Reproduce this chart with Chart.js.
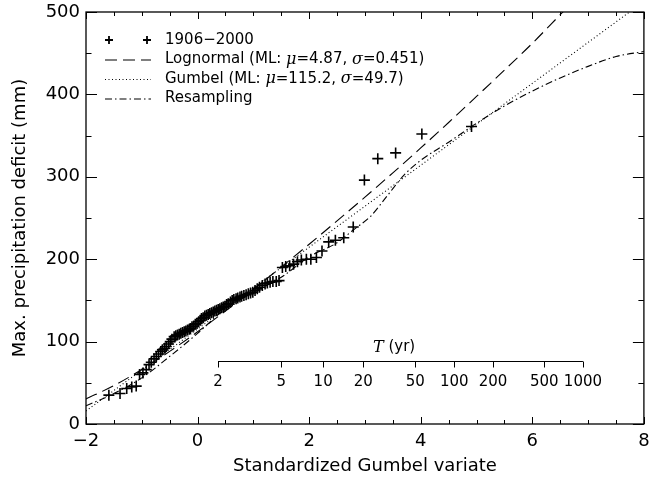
<!DOCTYPE html>
<html>
<head>
<meta charset="utf-8">
<script src="https://cdn.jsdelivr.net/npm/chart.js@4.4.1/dist/chart.umd.min.js"></script>
<style>
  html, body { margin: 0; padding: 0; background: #fff; }
</style>
</head>
<body>
<canvas id="chart" width="651" height="477"></canvas>
<script>
'use strict';

// annual maxima 1906-2000, at their Gumbel plotting positions
const obsX = [-1.59, -1.39, -1.27, -1.18, -1.10, -1.04, -0.98, -0.92, -0.87, -0.83,
  -0.78, -0.74, -0.70, -0.66, -0.63, -0.59, -0.56, -0.52, -0.49, -0.46,
  -0.42, -0.39, -0.36, -0.33, -0.30, -0.27, -0.24, -0.21, -0.18, -0.15,
  -0.13, -0.10, -0.07, -0.04, -0.01, 0.02, 0.05, 0.07, 0.10, 0.13,
  0.16, 0.19, 0.22, 0.25, 0.28, 0.31, 0.34, 0.37, 0.40, 0.43,
  0.46, 0.49, 0.52, 0.55, 0.59, 0.62, 0.65, 0.69, 0.72, 0.76,
  0.79, 0.83, 0.87, 0.91, 0.95, 0.99, 1.03, 1.07, 1.11, 1.16,
  1.21, 1.25, 1.30, 1.35, 1.41, 1.46, 1.52, 1.58, 1.65, 1.72,
  1.79, 1.86, 1.95, 2.03, 2.13, 2.23, 2.35, 2.47, 2.62, 2.79,
  2.99, 3.23, 3.55, 4.02, 4.91];
const obsY = [35, 37, 43, 45, 46, 60, 62, 66, 72, 75,
  79, 82, 85, 88, 90, 92, 94, 97, 100, 103,
  106, 107, 108, 109, 110, 111, 112, 113, 114, 115,
  116, 118, 119, 121, 122, 124, 126, 128, 129, 131,
  132, 133, 134, 135, 136, 137, 138, 139, 140, 141,
  142, 143, 145, 146, 148, 150, 151, 152, 153, 154,
  155, 156, 157, 158, 159, 160, 162, 164, 166, 168,
  170, 171, 172, 173, 173, 174, 190, 191, 192, 194,
  197, 199, 200, 200, 202, 210, 221, 223, 226, 239,
  296, 322, 329, 352, 361];

// lognormal fit (ML)
const lognX = [-2, -1.5, -1, -0.5, 0, 0.5, 1, 1.5, 2, 2.5, 3, 3.5, 4, 4.5, 5, 5.5, 6, 6.5, 7];
const lognY = [30.4, 46.6, 66.1, 88.1, 111.9, 137.2, 163.4, 190.5, 218.2, 246.5, 275.3,
  304.8, 335.0, 365.9, 397.5, 429.5, 462.0, 496.7, 531.5];

// gumbel fit (ML) - straight line on this paper
const gumbX = [-2, 8];
const gumbY = [15.8, 512.8];

// resampling estimate
const resX = [-2, -1.5, -1, -0.5, 0, 0.5, 1, 1.5, 2, 2.5, 2.8, 3.1, 3.4, 3.7, 4, 4.5, 5, 5.5, 6, 6.5, 7, 7.5, 8];
const resY = [22, 37, 56, 82, 110, 140, 160, 178, 203, 220, 236, 252, 277, 302, 320, 342, 365, 386, 404, 420, 434, 446, 452];

// return period axis
const returnPeriods = [2, 5, 10, 20, 50, 100, 200, 500, 1000];
const tAxisLevel = 76;

const legendNames = ['1906\u22122000', 'Lognormal', 'Gumbel', 'Resampling'];

const SANS = '"DejaVu Sans", sans-serif';
const GREEK = 'italic 16px "DejaVu Serif", serif';
const dashLogn = [12, 6];
const dashGumb = [1, 2.5];
const dashRes = [7, 3, 1.5, 3];

const toPts = (xs, ys) => xs.map((x, i) => ({ x: x, y: ys[i] }));
const minus = (v) => (v < 0 ? '\u2212' + Math.abs(v) : String(v));
const gumbelVariate = (T) => -Math.log(-Math.log(1 - 1 / T));

function drawRuns(ctx, x, y, runs) {
  runs.forEach(([text, font]) => {
    ctx.font = font;
    ctx.fillText(text, x, y);
    x += ctx.measureText(text).width;
  });
}

const extras = {
  id: 'extras',
  afterDatasetsDraw(chart) {
    const { ctx, chartArea: ca } = chart;
    const xs = chart.scales.x;
    const ys = chart.scales.y;
    ctx.save();
    ctx.strokeStyle = '#000';
    ctx.fillStyle = '#000';

    // frame
    ctx.lineWidth = 1.3;
    ctx.strokeRect(ca.left, ca.top, ca.right - ca.left, ca.bottom - ca.top);

    // inward ticks
    ctx.lineWidth = 1;
    ctx.beginPath();
    for (let v = -2; v <= 8; v += 0.5) {
      const px = Math.round(xs.getPixelForValue(v)) + 0.5;
      const len = v % 2 === 0 ? 7 : 4;
      ctx.moveTo(px, ca.bottom); ctx.lineTo(px, ca.bottom - len);
      ctx.moveTo(px, ca.top); ctx.lineTo(px, ca.top + len);
    }
    for (let v = 0; v <= 500; v += 50) {
      const py = Math.round(ys.getPixelForValue(v)) + 0.5;
      const len = v % 100 === 0 ? 11 : 5.5;
      ctx.moveTo(ca.left, py); ctx.lineTo(ca.left + len, py);
      ctx.moveTo(ca.right, py); ctx.lineTo(ca.right - len, py);
    }
    ctx.stroke();

    // return period axis inside the plot
    const ty = Math.round(ys.getPixelForValue(tAxisLevel)) + 0.5;
    const tx0 = xs.getPixelForValue(gumbelVariate(returnPeriods[0]));
    const tx1 = xs.getPixelForValue(gumbelVariate(returnPeriods[returnPeriods.length - 1]));
    ctx.beginPath();
    ctx.moveTo(tx0, ty); ctx.lineTo(tx1, ty);
    returnPeriods.forEach((T) => {
      const px = Math.round(xs.getPixelForValue(gumbelVariate(T))) + 0.5;
      ctx.moveTo(px, ty); ctx.lineTo(px, ty + 6);
    });
    ctx.stroke();
    ctx.textAlign = 'center';
    ctx.textBaseline = 'middle';
    ctx.font = '15px ' + SANS;
    returnPeriods.forEach((T) => {
      ctx.fillText(String(T), xs.getPixelForValue(gumbelVariate(T)), ty + 21);
    });
    ctx.textAlign = 'left';
    const tLabelX = xs.getPixelForValue(3.52) - 21;
    drawRuns(ctx, tLabelX, ty - 14, [['T', 'italic 16px "DejaVu Serif", serif'], [' (yr)', '15px ' + SANS]]);

    // legend
    const lx0 = ca.left + 22, lx1 = ca.left + 62, tx = ca.left + 79;
    const rows = [ca.top + 28, ca.top + 47.5, ca.top + 67, ca.top + 86.5];
    const F = '15px ' + SANS;
    ctx.lineWidth = 1.8;
    [lx0 + 1, lx1 - 1].forEach((px) => {
      ctx.beginPath();
      ctx.moveTo(px - 4, rows[0]); ctx.lineTo(px + 4, rows[0]);
      ctx.moveTo(px, rows[0] - 4); ctx.lineTo(px, rows[0] + 4);
      ctx.stroke();
    });
    ctx.lineWidth = 1.1;
    [[dashLogn, rows[1]], [dashGumb, rows[2]], [dashRes, rows[3]]].forEach(([d, y]) => {
      ctx.setLineDash(d);
      ctx.beginPath();
      ctx.moveTo(lx0 - 3, y + 0.5); ctx.lineTo(lx1 + 3, y + 0.5);
      ctx.stroke();
    });
    ctx.setLineDash([]);
    drawRuns(ctx, tx, rows[0], [[legendNames[0], F]]);
    drawRuns(ctx, tx, rows[1], [[legendNames[1] + ' (ML: ', F], ['\u03bc', GREEK], ['=4.87, ', F], ['\u03c3', GREEK], ['=0.451)', F]]);
    drawRuns(ctx, tx, rows[2], [[legendNames[2] + ' (ML: ', F], ['\u03bc', GREEK], ['=115.2, ', F], ['\u03c3', GREEK], ['=49.7)', F]]);
    drawRuns(ctx, tx, rows[3], [[legendNames[3], F]]);
    ctx.restore();
  }
};

Chart.defaults.font.family = SANS;
Chart.defaults.color = '#000';

new Chart(document.getElementById('chart'), {
  type: 'scatter',
  data: {
    datasets: [
      {
        label: legendNames[0],
        data: toPts(obsX, obsY),
        pointStyle: 'cross',
        pointRadius: 5.5,
        pointBorderWidth: 1.6,
        borderColor: '#000',
        backgroundColor: '#000',
        showLine: false
      },
      {
        label: legendNames[1],
        data: toPts(lognX, lognY),
        showLine: true,
        pointRadius: 0,
        borderColor: '#000',
        borderWidth: 1.1,
        borderDash: dashLogn,
        cubicInterpolationMode: 'monotone'
      },
      {
        label: legendNames[2],
        data: toPts(gumbX, gumbY),
        showLine: true,
        pointRadius: 0,
        borderColor: '#000',
        borderWidth: 1.1,
        borderDash: dashGumb
      },
      {
        label: legendNames[3],
        data: toPts(resX, resY),
        showLine: true,
        pointRadius: 0,
        borderColor: '#000',
        borderWidth: 1.1,
        borderDash: dashRes,
        cubicInterpolationMode: 'monotone'
      }
    ]
  },
  options: {
    responsive: false,
    animation: false,
    layout: { padding: { left: 0, right: 7, top: 12, bottom: 0 } },
    plugins: { legend: { display: false }, tooltip: { enabled: false } },
    scales: {
      x: {
        type: 'linear',
        min: -2,
        max: 8,
        grid: { display: false, drawTicks: false },
        border: { display: false },
        ticks: { stepSize: 2, padding: 7, font: { size: 18 }, callback: minus, maxRotation: 0 },
        title: { display: true, text: 'Standardized Gumbel variate', font: { size: 18 }, padding: { top: 0, bottom: 0 } },
        afterFit: (s) => { s.height = 53; s.paddingLeft = 0; s.paddingRight = 0; }
      },
      y: {
        type: 'linear',
        min: 0,
        max: 500,
        grid: { display: false, drawTicks: false },
        border: { display: false },
        ticks: { stepSize: 100, padding: 6, font: { size: 18 } },
        title: { display: true, text: 'Max. precipitation deficit (mm)', font: { size: 18 }, padding: { top: 10, bottom: 0 } },
        afterFit: (s) => { s.width = 86; s.paddingTop = 0; s.paddingBottom = 0; }
      }
    }
  },
  plugins: [extras]
});
</script>
</body>
</html>
